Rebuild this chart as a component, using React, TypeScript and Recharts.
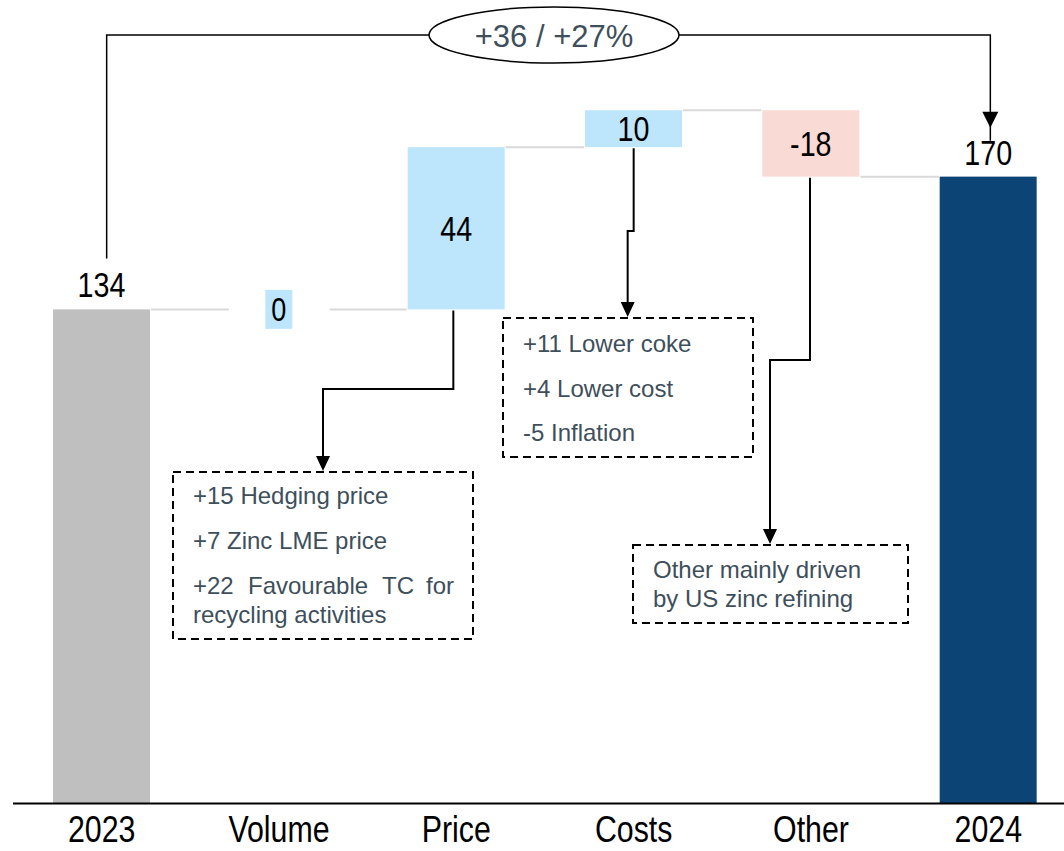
import React from "react";
import { BarChart, Bar, XAxis, YAxis, LabelList } from "recharts";

const categories = ["2023", "Volume", "Price", "Costs", "Other", "2024"];
const values = [134, 0, 44, 10, -18, 170];
const kinds = ["total", "delta", "delta", "delta", "delta", "total"];

const SANS = '"Liberation Sans", Arial, sans-serif';
const SLATE = "#3E4F5B";
const NARROW_X = 0.82; // no narrow font installed, squeeze Liberation Sans instead

const CHART_W = 1077;
const CHART_H = 851;
const AXIS_H = 30;
const MARGIN = { top: 66, right: 0, bottom: 17.5, left: 13 };
const Y_MAX = 200;
const BAR = 97;
const PLOT_W = CHART_W - MARGIN.left - MARGIN.right;
const PLOT_H = CHART_H - MARGIN.top - MARGIN.bottom - AXIS_H;
const BAND = PLOT_W / categories.length;

// same layout as the chart, used to hang the annotations on the bars
const xc = (i: number) => MARGIN.left + BAND * (i + 0.5);
const yv = (v: number) => MARGIN.top + PLOT_H * (1 - v / Y_MAX);

// waterfall rows: invisible base + visible size
let running = 0;
const rows = categories.map((name, i) => {
  const v = values[i];
  if (kinds[i] === "total") {
    running = v;
    return { name, base: 0, size: v, value: v, kind: "total" };
  }
  const start = running;
  running = start + v;
  return { name, base: Math.min(start, running), size: Math.abs(v), value: v, kind: "delta" };
});

const barColor = (i: number) => {
  if (kinds[i] === "total") return i === 0 ? "#BFBFBF" : "#0D4476";
  return values[i] < 0 ? "#F9DAD5" : "#BDE5FB";
};

const NarrowText = ({ x, y, size, children, dy }: any) => (
  <text
    transform={`translate(${x},${y}) scale(${NARROW_X},1)`}
    dy={dy}
    textAnchor="middle"
    fontFamily={SANS}
    fontSize={size}
    fill="#000"
  >
    {children}
  </text>
);

const WaterfallShape = (p: any) => {
  const { x, y, width, height, index, payload } = p;
  const level = payload.kind === "delta" && payload.value < 0 ? y + height : y;
  return (
    <g>
      {height > 0 && <rect x={x} y={y} width={width} height={height} fill={barColor(index)} />}
      {index < categories.length - 1 && (
        <line x1={x + width + 1} x2={x + BAND - 1} y1={level} y2={level} stroke="#D9D9D9" strokeWidth={2} />
      )}
    </g>
  );
};

const ValueLabel = (p: any) => {
  const vb = p.viewBox && p.viewBox.width !== undefined ? p.viewBox : p;
  const { x, y, width, height } = vb;
  const cx = x + width / 2;
  const idx = p.index ?? Math.round((cx - MARGIN.left) / BAND - 0.5);
  const v = values[idx];
  const txt = String(v);
  if (kinds[idx] === "total") {
    return (
      <NarrowText x={cx} y={y - 12} size={35}>
        {txt}
      </NarrowText>
    );
  }
  const cy = y + height / 2;
  if (v === 0) {
    return (
      <g>
        <rect x={cx - 50} y={cy - 20} width={101} height={40} fill="#fff" />
        <rect x={cx - 13.5} y={cy - 19.5} width={27} height={39} fill="#BDE5FB" />
        <NarrowText x={cx} y={cy + 0.358 * 33} size={33}>
          {txt}
        </NarrowText>
      </g>
    );
  }
  return (
    <NarrowText x={cx} y={cy + 0.358 * 35} size={35}>
      {txt}
    </NarrowText>
  );
};

const CategoryTick = (p: any) => (
  <NarrowText x={p.x} y={p.y} size={37} dy="0.71em">
    {p.payload.value}
  </NarrowText>
);

const Arrow = ({ pts }: { pts: number[][] }) => {
  const [tx, ty] = pts[pts.length - 1];
  const line = pts.map((q, i) => (i === pts.length - 1 ? [q[0], q[1] - 13] : q));
  return (
    <g>
      <polyline points={line.map((q) => q.join(",")).join(" ")} fill="none" stroke="#000" strokeWidth={2} />
      <polygon points={`${tx},${ty} ${tx - 7},${ty - 15} ${tx + 7},${ty - 15}`} fill="#000" />
    </g>
  );
};

const Note = ({ x, y, children, anchor }: any) => (
  <text x={x} y={y} textAnchor={anchor || "start"} fontFamily={SANS} fontSize={24} fill={SLATE}>
    {children}
  </text>
);

const Overlay = () => {
  const leftX = xc(0) + 5;
  const rightX = xc(5) + 2;
  return (
    <svg width={1064} height={851} style={{ position: "absolute", left: 0, top: 0, pointerEvents: "none" }}>
      {/* total change bracket */}
      <polyline points={`${leftX},${yv(134) - 51} ${leftX},35 429,35`} fill="none" stroke="#000" strokeWidth={1.5} />
      <polyline points={`679,35 ${rightX},35 ${rightX},${yv(170) - 36}`} fill="none" stroke="#000" strokeWidth={1.5} />
      <polygon
        points={`${rightX},${yv(170) - 49} ${rightX - 8},${yv(170) - 65} ${rightX + 8},${yv(170) - 65}`}
        fill="#000"
      />
      <ellipse cx={554} cy={35} rx={125} ry={28} fill="#fff" stroke="#000" strokeWidth={1.5} />
      <text x={554} y={47} textAnchor="middle" fontFamily={SANS} fontSize={31} fill={SLATE}>
        +36 / +27%
      </text>

      {/* price drivers */}
      <Arrow pts={[[xc(2) - 3, yv(134) + 1], [xc(2) - 3, 389], [323, 389], [323, 471]]} />
      <rect x={173} y={472} width={300} height={167} fill="#fff" stroke="#000" strokeWidth={2} strokeDasharray="8 5" />
      <Note x={193} y={504}>+15 Hedging price</Note>
      <Note x={193} y={549}>+7 Zinc LME price</Note>
      <Note x={193} y={594}>+22</Note>
      <Note x={248} y={594}>Favourable</Note>
      <Note x={382} y={594}>TC</Note>
      <Note x={454} y={594} anchor="end">for</Note>
      <Note x={193} y={623}>recycling activities</Note>

      {/* cost drivers */}
      <Arrow pts={[[xc(3), yv(178) + 1], [xc(3), 231], [xc(3) - 6, 231], [xc(3) - 6, 317]]} />
      <rect x={503} y={318} width={250} height={139} fill="#fff" stroke="#000" strokeWidth={2} strokeDasharray="8 5" />
      <Note x={523} y={352}>+11 Lower coke</Note>
      <Note x={523} y={397}>+4 Lower cost</Note>
      <Note x={523} y={441}>-5 Inflation</Note>

      {/* other */}
      <Arrow pts={[[xc(4) - 1, yv(170) + 1], [xc(4) - 1, 360], [770, 360], [770, 544]]} />
      <rect x={633} y={545} width={275} height={78} fill="#fff" stroke="#000" strokeWidth={2} strokeDasharray="8 5" />
      <Note x={653} y={578}>Other mainly driven</Note>
      <Note x={653} y={607}>by US zinc refining</Note>
    </svg>
  );
};

export default function App() {
  return (
    <div
      style={{
        position: "absolute",
        left: 0,
        top: 0,
        width: 1064,
        height: 851,
        overflow: "hidden",
        background: "#fff",
      }}
    >
      <BarChart width={CHART_W} height={CHART_H} data={rows} margin={MARGIN} barSize={BAR}>
        <XAxis
          dataKey="name"
          height={AXIS_H}
          interval={0}
          axisLine={{ stroke: "#000", strokeWidth: 2 }}
          tickLine={false}
          tickSize={0}
          tickMargin={12}
          tick={<CategoryTick />}
        />
        <YAxis hide domain={[0, Y_MAX]} />
        <Bar dataKey="base" stackId="w" fill="transparent" isAnimationActive={false} />
        <Bar dataKey="size" stackId="w" shape={WaterfallShape} isAnimationActive={false}>
          <LabelList dataKey="size" content={ValueLabel} />
        </Bar>
      </BarChart>
      <Overlay />
    </div>
  );
}
